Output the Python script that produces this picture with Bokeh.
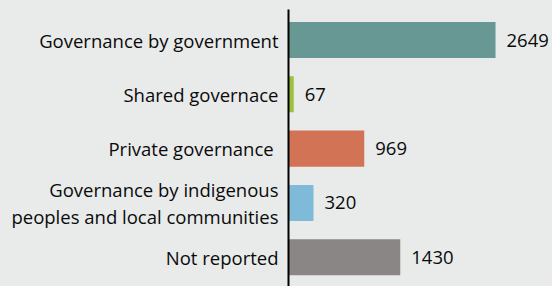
from bokeh.plotting import figure
from bokeh.models import Range1d, FixedTicker, ColumnDataSource
from bokeh.core.properties import value
from bokeh.embed import file_html
from bokeh.resources import INLINE

categories = ["Governance by government", "Shared governace", "Private  governance",
              "Governance by indigenous\npeoples and local communities", "Not reported"]
values = [2649, 67, 969, 320, 1430]
colors = ["#679893", "#9BC23C", "#D27356", "#7FBBD9", "#8A8685"]

BG = "#E9EBEA"
FONT = "Open Sans"
FS = "18.5px"

pos = list(range(len(categories)))
src = ColumnDataSource(dict(y=pos, v=values, c=colors, t=[str(x) for x in values]))

p = figure(width=552, height=286, output_backend="svg", toolbar_location=None,
           x_range=Range1d(0, 3378), y_range=Range1d(4.539, -0.562),
           min_border_left=288, min_border_right=0, min_border_top=9, min_border_bottom=0)
p.background_fill_color = BG
p.border_fill_color = BG
p.outline_line_color = None
p.xgrid.visible = False
p.ygrid.visible = False
p.xaxis.visible = False

p.hbar(y="y", right="v", left=0, height=0.663, fill_color="c", line_color=None, source=src)
p.text(x="v", y="y", text="t", x_offset=11, text_baseline="middle", text_align="left",
       text_font=value(FONT), text_font_size=FS, text_color="#0a0a0a", source=src)

ax = p.yaxis[0]
ax.ticker = FixedTicker(ticks=pos)
ax.major_label_overrides = {i: c for i, c in enumerate(categories)}
ax.major_label_text_font = FONT
ax.major_label_text_font_size = FS
ax.major_label_text_color = "#0a0a0a"
ax.major_label_text_line_height = 1.1
ax.major_label_standoff = 4
ax.major_tick_line_color = None
ax.minor_tick_line_color = None
ax.axis_line_color = "black"
ax.axis_line_width = 2

html = file_html(p, INLINE)
style = "<style>html, body { margin: 0; padding: 0; background: %s; }</style>" % BG
html = html.replace("</head>", style + "</head>", 1)
open("out.html", "w").write(html)
